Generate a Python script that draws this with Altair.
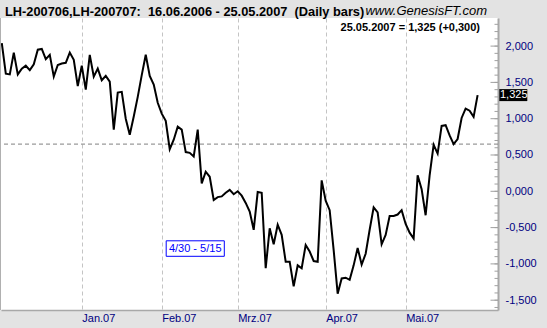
import altair as alt
import pandas as pd

# ---- data ----
values = [2.04, 1.62, 1.61, 1.91, 1.61, 1.69, 1.73, 1.67, 1.75, 1.95,
          1.96, 1.82, 1.88, 1.58, 1.74, 1.76, 1.77, 1.91, 1.81, 1.45,
          1.73, 1.40, 1.88, 1.58, 1.69, 1.53, 1.59, 1.51, 0.85, 1.36,
          1.37, 1.00, 0.78, 1.03, 1.30, 1.60, 1.88, 1.59, 1.47, 1.22,
          1.07, 0.97, 0.58, 0.71, 0.89, 0.85, 0.54, 0.53, 0.48, 0.85,
          0.11, 0.27, 0.20, -0.12, -0.08, -0.07, -0.02, 0.02, -0.04, 0.00,
          -0.06, -0.16, -0.28, -0.53, -0.01, -0.02, -1.06, -0.51, -0.73, -0.46,
          -0.60, -0.97, -0.97, -1.31, -1.02, -1.06, -0.74, -0.83, -0.96, -0.97,
          0.15, -0.13, -0.26, -0.81, -1.41, -1.20, -1.19, -1.22, -1.02, -0.78,
          -1.01, -0.86, -0.53, -0.22, -0.29, -0.73, -0.60, -0.34, -0.34, -0.32,
          -0.26, -0.45, -0.57, -0.65, 0.22, 0.03, -0.33, 0.22, 0.64, 0.52,
          0.90, 0.91, 0.77, 0.65, 0.72, 1.01, 1.14, 1.11, 1.025, 1.325]

holidays = ["2006-12-25", "2007-01-01", "2007-01-02", "2007-01-15",
            "2007-02-19", "2007-04-06"]
month_labels = {1: "Jan.07", 2: "Feb.07", 3: "Mrz.07", 4: "Apr.07", 5: "Mai.07"}
y_major = [-1.5, -1.0, -0.5, 0.0, 0.5, 1.0, 1.5, 2.0]
y_minor = [round(-1.6 + 0.1 * k, 1) for k in range(40)]
ref_level = [0.65]
title_text = "LH-200706,LH-200707:\u00a0\u00a016.06.2006 - 25.05.2007\u00a0\u00a0(Daily bars)"
site_text = "www.GenesisFT.com"
window_text = "4/30 - 5/15"

# ---- build tables ----
days = [d for d in pd.bdate_range("2006-12-01", "2007-05-25")
        if d.strftime("%Y-%m-%d") not in holidays]
days = days[:len(values)]
df = pd.DataFrame({"i": list(range(len(values))), "v": values})

tick_idx, tick_lab = [], []
for k in range(1, len(days)):
    if days[k].month != days[k - 1].month and days[k].month in month_labels:
        tick_idx.append(k)
        tick_lab.append(month_labels[days[k].month])
label_expr = "''"
for k, lab in reversed(list(zip(tick_idx, tick_lab))):
    label_expr = f"datum.value == {k} ? '{lab}' : ({label_expr})"


def de(x, signed=False):
    s = f"{abs(x):.3f}".replace(".", ",")
    if x < 0:
        s = "-" + s
    elif signed:
        s = "+" + s
    return s


last_v = values[-1]
chg = values[-1] - values[-2]
info_text = f"{days[-1].strftime('%d.%m.%Y')} = {de(last_v)} ({de(chg, True)})"

FONT = "Liberation Sans"
NAVY = "#000080"

x_enc = alt.X("i:Q", title=None,
              scale=alt.Scale(domain=[-0.2, 124.1], nice=False, zero=False),
              axis=alt.Axis(values=tick_idx, labelExpr=label_expr, grid=True,
                            gridDash=[4, 3], gridColor="#c4c4c4", gridWidth=1,
                            ticks=False, domain=True, domainColor="#a8a8a8",
                            domainWidth=1.5, labelAlign="left", labelBaseline="top",
                            labelPadding=2, labelColor=NAVY, labelFont=FONT,
                            labelFontSize=11))
y_enc = alt.Y("v:Q", title=None,
              scale=alt.Scale(domain=[-1.635, 2.387], nice=False, zero=False),
              axis=alt.Axis(orient="right", values=y_major,
                            labelExpr="(datum.value < 0 ? '-' : '') + replace(format(abs(datum.value), '.3f'), '.', ',')",
                            grid=False, ticks=False, domain=True,
                            domainColor="#a8a8a8", domainWidth=2,
                            labelPadding=7, labelAlign="left", labelBaseline="middle",
                            labelColor=NAVY, labelFont=FONT, labelFontSize=11))

ref = alt.Chart(pd.DataFrame({"v": ref_level})).mark_rule(
    color="#808080", strokeDash=[4, 3], strokeWidth=1).encode(y=y_enc)

minor = alt.Chart(pd.DataFrame({"v": y_minor})).mark_rule(
    color="#a0a0a0", strokeWidth=1).encode(y=y_enc, x=alt.value(493.5), x2=alt.value(497))
major = alt.Chart(pd.DataFrame({"v": y_major})).mark_rule(
    color="#a0a0a0", strokeWidth=1).encode(y=y_enc, x=alt.value(489.5), x2=alt.value(497))

line = alt.Chart(df).mark_line(color="black", strokeWidth=2).encode(x=x_enc, y=y_enc)

left_edge = alt.Chart(pd.DataFrame({"v": [0]})).mark_rule(color="#b0b0b0").encode(
    x=alt.value(-0.5), y=alt.value(0), y2=alt.value(292))

last_df = pd.DataFrame({"v": [last_v], "t": [de(last_v)]})
last_box = alt.Chart(last_df).mark_tick(color="black", thickness=12, size=28,
                                        orient="horizontal", opacity=1).encode(
    y=y_enc, x=alt.value(512.3))
last_txt = alt.Chart(last_df).mark_text(color="white", align="left", baseline="middle",
                                        font=FONT, fontSize=11).encode(
    y=y_enc, x=alt.value(499), text="t:N")

head = alt.Chart(pd.DataFrame({"t": [title_text]})).mark_text(
    align="left", baseline="alphabetic", font=FONT, fontSize=12.8, fontWeight="bold",
    color="black").encode(x=alt.value(4), y=alt.value(-2.5), text="t:N")
site = alt.Chart(pd.DataFrame({"t": [site_text]})).mark_text(
    align="right", baseline="alphabetic", font=FONT, fontSize=13, fontStyle="italic",
    color="black").encode(x=alt.value(486), y=alt.value(-3.5), text="t:N")
info = alt.Chart(pd.DataFrame({"t": [info_text]})).mark_text(
    align="right", baseline="alphabetic", font=FONT, fontSize=11, fontWeight="bold",
    color="black").encode(x=alt.value(479), y=alt.value(13), text="t:N")

win_box = alt.Chart(pd.DataFrame({"t": [window_text]})).mark_rect(
    fill="white", stroke="#0000ff", strokeWidth=1).encode(
    x=alt.value(165.2), x2=alt.value(223.3), y=alt.value(222.8), y2=alt.value(238.3))
win_txt = alt.Chart(pd.DataFrame({"t": [window_text]})).mark_text(
    color="#0000ff", align="center", baseline="middle", font=FONT, fontSize=11).encode(
    x=alt.value(194.2), y=alt.value(230.8), text="t:N")

chart = alt.layer(ref, line, minor, major, left_edge, last_box, last_txt,
                  head, site, info, win_box, win_txt).properties(
    width=497, height=292,
    padding={"left": 1, "top": 18, "right": 49, "bottom": 18},
    autosize=alt.AutoSizeParams(type="none"),
).configure(background="#e3e3e3").configure_view(fill="white", strokeWidth=0)

chart.save("out.html", embed_options={"renderer": "svg", "actions": False})
